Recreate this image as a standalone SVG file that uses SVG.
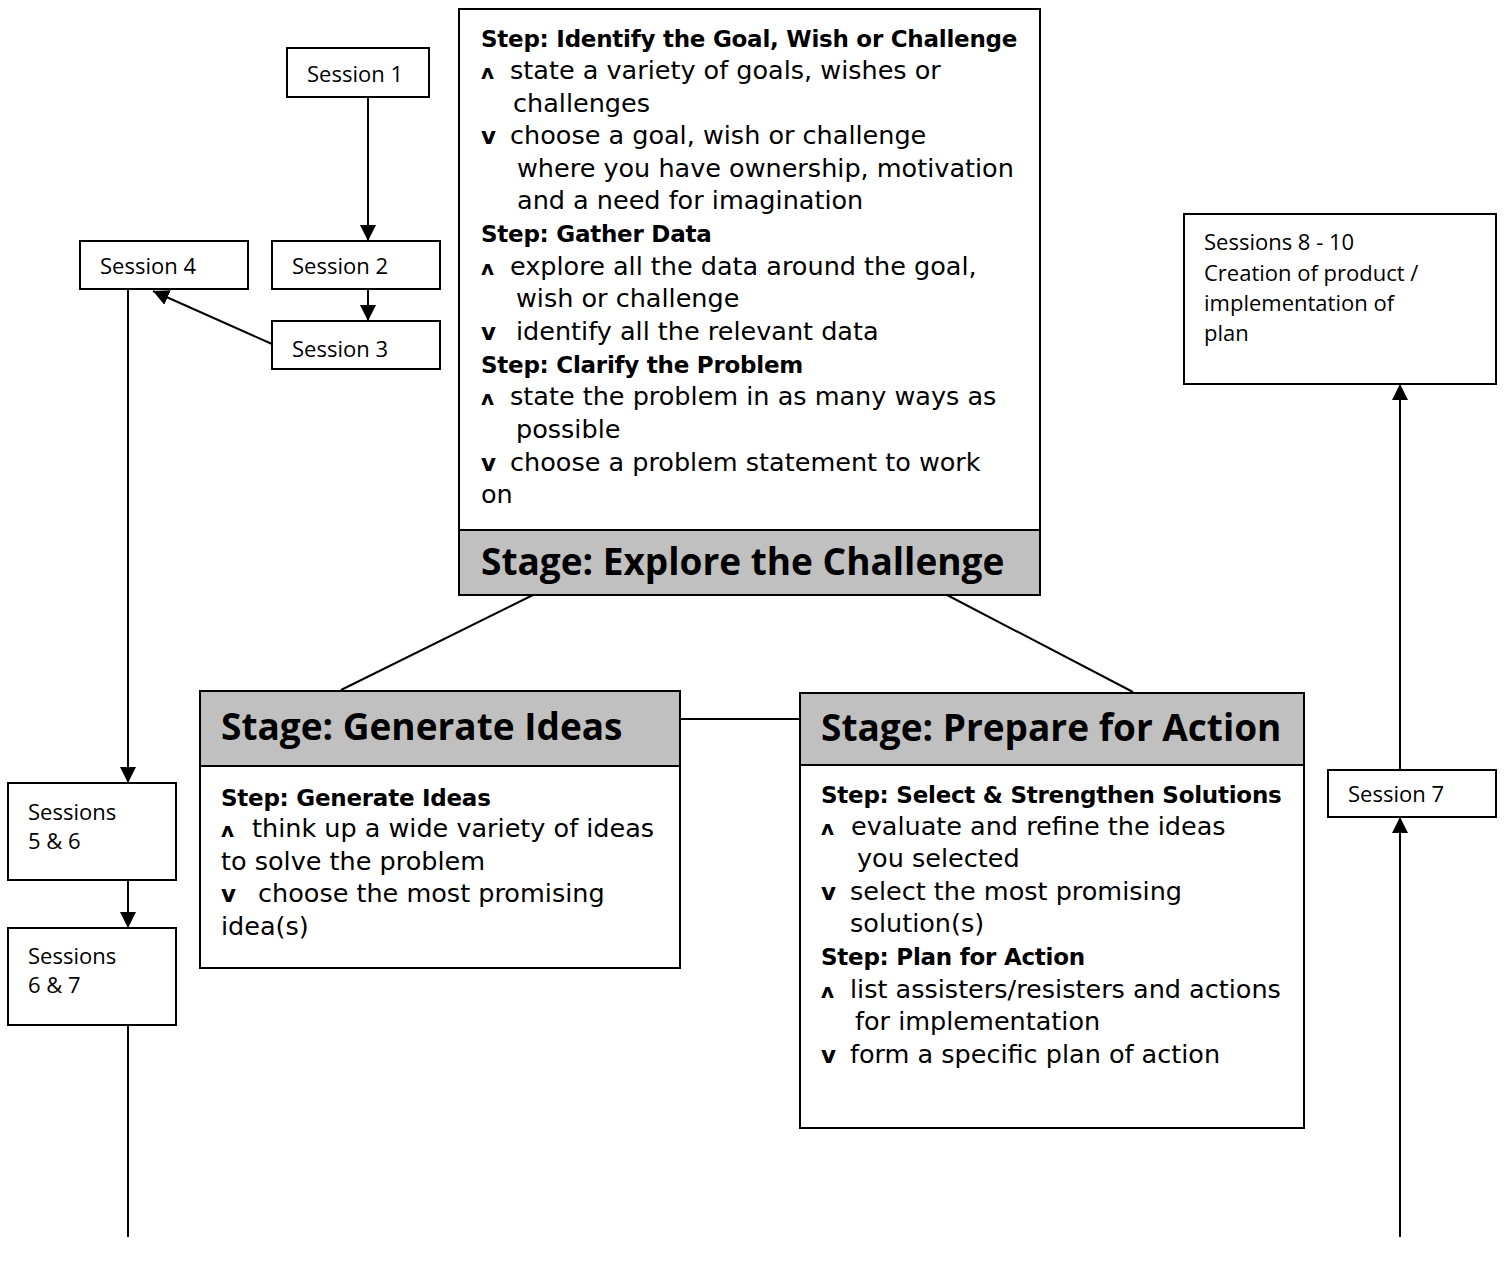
<svg xmlns="http://www.w3.org/2000/svg" width="1505" height="1268" viewBox="0 0 1505 1268">
<style>
.box{fill:#fff;stroke:#000;stroke-width:2}
.hdr{fill:#c0c0c0;stroke:#000;stroke-width:2}
.t{font-family:"DejaVu Sans",sans-serif;font-size:25.5px;fill:#000}
.b{font-family:"DejaVu Sans",sans-serif;font-size:23px;font-weight:bold;letter-spacing:-0.25px;fill:#000}
.h{font-family:"Open Sans","DejaVu Sans",sans-serif;font-size:37px;font-weight:bold;fill:#000}
.s{font-family:"Open Sans","DejaVu Sans",sans-serif;font-size:22px;fill:#000}
.m{font-family:"DejaVu Sans",sans-serif;font-size:20px;font-weight:bold;fill:#000}
.conn{stroke:#000;stroke-width:2;fill:none}
</style>
<defs>
<marker id="arr" markerUnits="userSpaceOnUse" viewBox="0 0 16 16" refX="16" refY="8" markerWidth="16" markerHeight="16" orient="auto">
<path d="M0,0 L16,8 L0,16 z" fill="#000"/>
</marker>
</defs>
<rect width="1505" height="1268" fill="#fff"/>
<g id="connectors">
<line class="conn" x1="368" y1="97" x2="368" y2="241" marker-end="url(#arr)"/>
<line class="conn" x1="368" y1="289" x2="368" y2="321" marker-end="url(#arr)"/>
<line class="conn" x1="272" y1="344" x2="153" y2="291" marker-end="url(#arr)"/>
<line class="conn" x1="128" y1="289" x2="128" y2="783" marker-end="url(#arr)"/>
<line class="conn" x1="128" y1="880" x2="128" y2="928" marker-end="url(#arr)"/>
<line class="conn" x1="128" y1="1025" x2="128" y2="1237"/>
<line class="conn" x1="1400" y1="1237" x2="1400" y2="817" marker-end="url(#arr)"/>
<line class="conn" x1="1400" y1="770" x2="1400" y2="384" marker-end="url(#arr)"/>
<line class="conn" x1="533" y1="595" x2="341" y2="690"/>
<line class="conn" x1="947" y1="595" x2="1133" y2="692"/>
<line class="conn" x1="680" y1="719" x2="800" y2="719"/>
</g>
<g id="session1">
<rect class="box" x="287" y="48" width="142" height="49"/>
<text class="s" x="307" y="82">Session 1</text>
</g>
<g id="session2">
<rect class="box" x="272" y="241" width="168" height="48"/>
<text class="s" x="292" y="274">Session 2</text>
</g>
<g id="session3">
<rect class="box" x="272" y="321" width="168" height="48"/>
<text class="s" x="292" y="357">Session 3</text>
</g>
<g id="session4">
<rect class="box" x="80" y="241" width="168" height="48"/>
<text class="s" x="100" y="274">Session 4</text>
</g>
<g id="sessions56">
<rect class="box" x="8" y="783" width="168" height="97"/>
<text class="s" x="28" y="820">Sessions</text>
<text class="s" x="28" y="849">5 &amp; 6</text>
</g>
<g id="sessions67">
<rect class="box" x="8" y="928" width="168" height="97"/>
<text class="s" x="28" y="964">Sessions</text>
<text class="s" x="28" y="993">6 &amp; 7</text>
</g>
<g id="session7">
<rect class="box" x="1328" y="770" width="168" height="47"/>
<text class="s" x="1348" y="802">Session 7</text>
</g>
<g id="sessions810">
<rect class="box" x="1184" y="214" width="312" height="170"/>
<text class="s" x="1204" y="250">Sessions 8 - 10</text>
<text class="s" x="1204" y="281">Creation of product /</text>
<text class="s" x="1204" y="311">implementation of</text>
<text class="s" x="1204" y="341">plan</text>
</g>
<g id="explore">
<rect class="box" x="459" y="9" width="581" height="586"/>
<rect class="hdr" x="459" y="530" width="581" height="65"/>
<text class="b" x="481" y="47">Step: Identify the Goal, Wish or Challenge</text>
<text class="m" x="481" y="79">ʌ</text><text class="t" x="510" y="79">state a variety of goals, wishes or</text>
<text class="t" x="513" y="112">challenges</text>
<text class="b" x="481" y="144">v</text><text class="t" x="510" y="144">choose a goal, wish or challenge</text>
<text class="t" x="517" y="177">where you have ownership, motivation</text>
<text class="t" x="517" y="209">and a need for imagination</text>
<text class="b" x="481" y="242">Step: Gather Data</text>
<text class="m" x="481" y="275">ʌ</text><text class="t" x="510" y="275">explore all the data around the goal,</text>
<text class="t" x="516" y="307">wish or challenge</text>
<text class="b" x="481" y="340">v</text><text class="t" x="516" y="340">identify all the relevant data</text>
<text class="b" x="481" y="373">Step: Clarify the Problem</text>
<text class="m" x="481" y="405">ʌ</text><text class="t" x="510" y="405">state the problem in as many ways as</text>
<text class="t" x="516" y="438">possible</text>
<text class="b" x="481" y="471">v</text><text class="t" x="510" y="471">choose a problem statement to work</text>
<text class="t" x="481" y="503">on</text>
<text class="h" x="481" y="575">Stage: Explore the Challenge</text>
</g>
<g id="generate">
<rect class="box" x="200" y="691" width="480" height="277"/>
<rect class="hdr" x="200" y="691" width="480" height="75"/>
<text class="h" x="221" y="740">Stage: Generate Ideas</text>
<text class="b" x="221" y="806">Step: Generate Ideas</text>
<text class="m" x="221" y="837">ʌ</text><text class="t" x="252" y="837">think up a wide variety of ideas</text>
<text class="t" x="221" y="870">to solve the problem</text>
<text class="b" x="221" y="902">v</text><text class="t" x="258" y="902">choose the most promising</text>
<text class="t" x="221" y="935">idea(s)</text>
</g>
<g id="prepare">
<rect class="box" x="800" y="693" width="504" height="435"/>
<rect class="hdr" x="800" y="693" width="504" height="72"/>
<text class="h" x="821" y="741">Stage: Prepare for Action</text>
<text class="b" x="821" y="803">Step: Select &amp; Strengthen Solutions</text>
<text class="m" x="821" y="835">ʌ</text><text class="t" x="851" y="835">evaluate and refine the ideas</text>
<text class="t" x="857" y="867">you selected</text>
<text class="b" x="821" y="900">v</text><text class="t" x="850" y="900">select the most promising</text>
<text class="t" x="850" y="932">solution(s)</text>
<text class="b" x="821" y="965">Step: Plan for Action</text>
<text class="m" x="821" y="998">ʌ</text><text class="t" x="850" y="998">list assisters/resisters and actions</text>
<text class="t" x="855" y="1030">for implementation</text>
<text class="b" x="821" y="1063">v</text><text class="t" x="850" y="1063">form a specific plan of action</text>
</g>
</svg>
